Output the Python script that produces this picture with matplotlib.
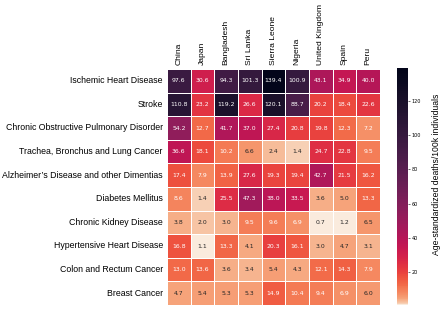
import numpy as np
import matplotlib
matplotlib.use("Agg")
import matplotlib.pyplot as plt
import seaborn as sns
from matplotlib.colors import ListedColormap

countries = ["China", "Japan", "Bangladesh", "Sri Lanka", "Sierra Leone",
             "Nigeria", "United Kingdom", "Spain", "Peru"]
causes = ["Ischemic Heart Disease", "Stroke", "Chronic Obstructive Pulmonary Disorder",
          "Trachea, Bronchus and Lung Cancer", "Alzheimer’s Disease and other Dimentias",
          "Diabetes Mellitus", "Chronic Kidney Disease", "Hypertensive Heart Disease",
          "Colon and Rectum Cancer", "Breast Cancer"]

ischemic = [97.6, 30.6, 94.3, 101.3, 139.4, 100.9, 43.1, 34.9, 40.0]
stroke = [110.8, 23.2, 119.2, 26.6, 120.1, 88.7, 20.2, 18.4, 22.6]
copd = [54.2, 12.7, 41.7, 37.0, 27.4, 20.8, 19.8, 12.3, 7.2]
lung = [36.6, 18.1, 10.2, 6.6, 2.4, 1.4, 24.7, 22.8, 9.5]
alzheimer = [17.4, 7.9, 13.9, 27.6, 19.3, 19.4, 42.7, 21.5, 16.2]
diabetes = [8.6, 1.4, 25.5, 47.3, 38.0, 33.5, 3.6, 5.0, 13.3]
kidney = [3.8, 2.0, 3.0, 9.5, 9.6, 6.9, 0.7, 1.2, 6.5]
hypertensive = [16.8, 1.1, 13.3, 4.1, 20.3, 16.1, 3.0, 4.7, 3.1]
colon = [13.0, 13.6, 3.6, 3.4, 5.4, 4.3, 12.1, 14.3, 7.9]
breast = [4.7, 5.4, 5.3, 5.3, 14.9, 10.4, 9.4, 6.9, 6.0]

data = np.array([ischemic, stroke, copd, lung, alzheimer, diabetes,
                 kidney, hypertensive, colon, breast])

# rocket_r, squeezed so the light end only covers the smallest values
base = sns.color_palette("rocket_r", as_cmap=True)
cmap = ListedColormap(base(np.linspace(0, 1, 256) ** 0.47))

fig = plt.figure(figsize=(4.4, 3.32), dpi=100)
ax = fig.add_axes([167/440, 1 - 305/332, 213/440, 236/332])
cax = fig.add_axes([397/440, 1 - 305/332, 11/440, 237/332])

sns.heatmap(data, ax=ax, cbar_ax=cax, cmap=cmap, annot=True, fmt=".1f",
            annot_kws={"fontsize": 4.4, "family": "DejaVu Sans"},
            linewidths=0.5, linecolor="white",
            xticklabels=countries, yticklabels=causes)

ax.xaxis.tick_top()
ax.set_xticklabels(countries, rotation=90, fontsize=6.1, family="Liberation Sans")
ax.set_yticklabels(causes, rotation=0, fontsize=6.3, family="Liberation Sans")
ax.tick_params(length=0, pad=3)

cax.tick_params(labelsize=3.5, length=1.5, width=0.4, pad=1)
for s in cax.spines.values():
    s.set_visible(False)
fig.text(436/440, 1 - 174/332, "Age-standardized deaths/100k individuals",
         rotation=90, ha="center", va="center", fontsize=6.2, family="Liberation Sans")

fig.savefig("out.png", dpi=100)
